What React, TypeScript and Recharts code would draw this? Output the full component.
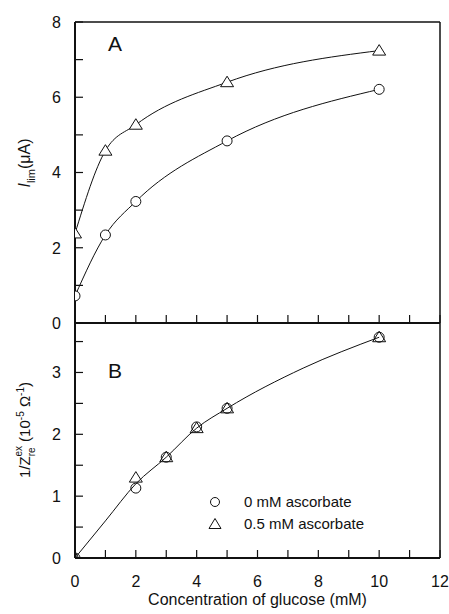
import React from "react";
import { ComposedChart, Line, XAxis, YAxis, Legend, ReferenceLine } from "recharts";

// panel A: limiting current vs glucose
const A_X = [0, 1, 2, 5, 10];
const A_NO_ASC = [0.72, 2.34, 3.23, 4.84, 6.21];
const A_WITH_ASC = [2.38, 4.58, 5.27, 6.4, 7.24];

// panel B: 1/Zre vs glucose
const B_X = [0, 2, 3, 4, 5, 10];
const B_NO_ASC = [0, 1.13, 1.63, 2.12, 2.42, 3.57];
const B_WITH_ASC = [0, 1.3, 1.63, 2.1, 2.42, 3.57];
const B_FIT_X = [0, 1, 2, 3, 4, 5, 7.5, 10];
const B_FIT_Y = [0, 0.6, 1.2, 1.63, 2.1, 2.42, 3.07, 3.57];

const X_TICKS = [0, 1, 2, 3, 4, 5, 6, 7, 8, 9, 10, 11, 12];
const A_Y_TICKS = [0, 1, 2, 3, 4, 5, 6, 7, 8];
const B_Y_TICKS = [0, 0.5, 1, 1.5, 2, 2.5, 3, 3.5];
const SERIES_NAMES = ["0 mM ascorbate", "0.5 mM ascorbate"];

const FONT = '"Liberation Sans", Arial, sans-serif';
const INK = "#111";
const TICK_LEN = 8;
const Y_GAP = 14; // label gap left of the axis
const X_GAP = 18; // label gap below the axis

const zip = (xs: number[], ys: number[]) => xs.map((x, i) => ({ x, y: ys[i] }));

function circleDot(fill: string) {
  return (p: any) => (
    <circle key={`c${p.index}`} cx={p.cx} cy={p.cy} r={5} fill={fill} stroke={INK} strokeWidth={1} />
  );
}

function triDot(fill: string) {
  return (p: any) => (
    <path
      key={`t${p.index}`}
      d={`M${p.cx},${p.cy - 6} L${p.cx - 6.5},${p.cy + 4.5} L${p.cx + 6.5},${p.cy + 4.5} Z`}
      fill={fill}
      stroke={INK}
      strokeWidth={1}
    />
  );
}

// left axis tick: inward mark plus optional label
const YTick = (show: (v: number) => boolean) => (p: any) => {
  const ax = Number(p.x) + Y_GAP;
  const y = Number(p.y);
  const v = p.payload.value;
  return (
    <g>
      <path d={`M${ax},${y}H${ax + TICK_LEN}`} stroke={INK} strokeWidth={1.2} fill="none" />
      {show(v) && (
        <text x={p.x} y={p.y} dy="0.36em" textAnchor="end" fontFamily={FONT} fontSize={16} fill={INK}>
          {v}
        </text>
      )}
    </g>
  );
};

// bottom axis tick: upward mark plus optional label
const XTick = (withLabel: boolean) => (p: any) => {
  const ay = Number(p.y) - X_GAP;
  const x = Number(p.x);
  const v = p.payload.value;
  return (
    <g>
      <path d={`M${x},${ay}V${ay - TICK_LEN}`} stroke={INK} strokeWidth={1.2} fill="none" />
      {withLabel && v % 2 === 0 && (
        <text x={p.x} y={p.y} dy="0.71em" textAnchor="middle" fontFamily={FONT} fontSize={16} fill={INK}>
          {v}
        </text>
      )}
    </g>
  );
};

const TitleA = (props: any) => {
  const vb = props.viewBox || { x: 0 };
  const cx = vb.x + 30;
  const cy = 163;
  return (
    <text
      x={cx}
      y={cy}
      transform={`rotate(-90 ${cx} ${cy})`}
      textAnchor="middle"
      fontFamily={FONT}
      fontSize={16}
      fill={INK}
    >
      <tspan fontStyle="italic">I</tspan>
      <tspan fontSize={11} dy={5}>lim</tspan>
      <tspan dy={-5}>(μA)</tspan>
    </text>
  );
};

const TitleB = (props: any) => {
  const vb = props.viewBox || { x: 0 };
  const cx = vb.x + 30;
  const cy = 107;
  return (
    <text
      x={cx}
      y={cy}
      transform={`rotate(-90 ${cx} ${cy})`}
      textAnchor="middle"
      fontFamily={FONT}
      fontSize={15}
      fill={INK}
    >
      <tspan>1/Z</tspan>
      <tspan fontSize={10} dy={5}>re</tspan>
      <tspan fontSize={10} dx={-9} dy={-13}>ex</tspan>
      <tspan dy={8} dx={4}>(10</tspan>
      <tspan fontSize={10} dy={-6}>-5</tspan>
      <tspan dy={6}> Ω</tspan>
      <tspan fontSize={10} dy={-6}>-1</tspan>
      <tspan dy={6}>)</tspan>
    </text>
  );
};

const LegendBox = () => (
  <div style={{ fontFamily: FONT, fontSize: 15, color: INK, lineHeight: "22px" }}>
    {SERIES_NAMES.map((name, i) => (
      <div key={name} style={{ display: "flex", alignItems: "center" }}>
        <svg width={44} height={22} style={{ display: "block" }}>
          {i === 0 ? (
            <circle cx={15} cy={11} r={4.5} fill="none" stroke={INK} />
          ) : (
            <path d="M15,5.5 L9,15.5 L21,15.5 Z" fill="none" stroke={INK} />
          )}
        </svg>
        <span>{name}</span>
      </div>
    ))}
  </div>
);

const panelLetter = (top: number): React.CSSProperties => ({
  position: "absolute",
  left: 108,
  top,
  fontFamily: FONT,
  fontSize: 21,
  color: INK,
  lineHeight: "21px",
});

export default function App() {
  return (
    <div style={{ position: "absolute", left: 0, top: 0, width: 449, height: 614, background: "#fff" }}>
      <div style={{ position: "absolute", left: 0, top: 0 }}>
        <ComposedChart width={449} height={340} margin={{ top: 22, right: 9, left: 0, bottom: 0 }}>
          <XAxis
            type="number"
            dataKey="x"
            domain={[0, 12]}
            ticks={X_TICKS}
            height={17}
            tickSize={0}
            tickMargin={X_GAP}
            tick={XTick(false)}
            tickLine={false}
            axisLine={{ stroke: INK, strokeWidth: 2 }}
            allowDataOverflow
          />
          <YAxis
            type="number"
            dataKey="y"
            domain={[0, 8]}
            ticks={A_Y_TICKS}
            width={75}
            tickSize={0}
            tickMargin={Y_GAP}
            tick={YTick((v) => v % 2 === 0)}
            tickLine={false}
            axisLine={{ stroke: INK, strokeWidth: 2 }}
            label={<TitleA />}
            allowDataOverflow
          />
          <ReferenceLine y={8} stroke={INK} strokeWidth={1.5} />
          <ReferenceLine x={12} stroke={INK} strokeWidth={1.5} />
          <Line
            data={zip(A_X, A_NO_ASC)}
            dataKey="y"
            type="monotone"
            stroke={INK}
            strokeWidth={1}
            dot={circleDot("#fff")}
            isAnimationActive={false}
          />
          <Line
            data={zip(A_X, A_WITH_ASC)}
            dataKey="y"
            type="monotone"
            stroke={INK}
            strokeWidth={1}
            dot={triDot("#fff")}
            isAnimationActive={false}
          />
        </ComposedChart>
      </div>
      <div style={{ position: "absolute", left: 0, top: 323 }}>
        <ComposedChart width={449} height={291} margin={{ top: 0, right: 9, left: 0, bottom: 0 }}>
          <XAxis
            type="number"
            dataKey="x"
            domain={[0, 12]}
            ticks={X_TICKS}
            height={56}
            tickSize={0}
            tickMargin={X_GAP}
            tick={XTick(true)}
            tickLine={false}
            axisLine={{ stroke: INK, strokeWidth: 2 }}
            label={{
              value: "Concentration of glucose (mM)",
              position: "insideBottom",
              offset: 9,
              style: { fontSize: 16, fill: INK, fontFamily: FONT },
            }}
            allowDataOverflow
          />
          <YAxis
            type="number"
            dataKey="y"
            domain={[0, 3.8]}
            ticks={B_Y_TICKS}
            width={75}
            tickSize={0}
            tickMargin={Y_GAP}
            tick={YTick((v) => Number.isInteger(v))}
            tickLine={false}
            axisLine={{ stroke: INK, strokeWidth: 2 }}
            label={<TitleB />}
            allowDataOverflow
          />
          <ReferenceLine x={12} stroke={INK} strokeWidth={1.5} />
          <Line
            data={zip(B_FIT_X, B_FIT_Y)}
            dataKey="y"
            type="monotone"
            stroke={INK}
            strokeWidth={1}
            dot={false}
            isAnimationActive={false}
          />
          <Line
            data={zip(B_X, B_NO_ASC)}
            dataKey="y"
            stroke="none"
            dot={circleDot("none")}
            isAnimationActive={false}
          />
          <Line
            data={zip(B_X, B_WITH_ASC)}
            dataKey="y"
            stroke="none"
            dot={triDot("none")}
            isAnimationActive={false}
          />
          <Legend
            layout="vertical"
            align="center"
            verticalAlign="middle"
            content={<LegendBox />}
            wrapperStyle={{ left: 200, top: 168, width: "auto" }}
          />
        </ComposedChart>
      </div>
      <div style={panelLetter(33)}>A</div>
      <div style={panelLetter(360)}>B</div>
    </div>
  );
}
